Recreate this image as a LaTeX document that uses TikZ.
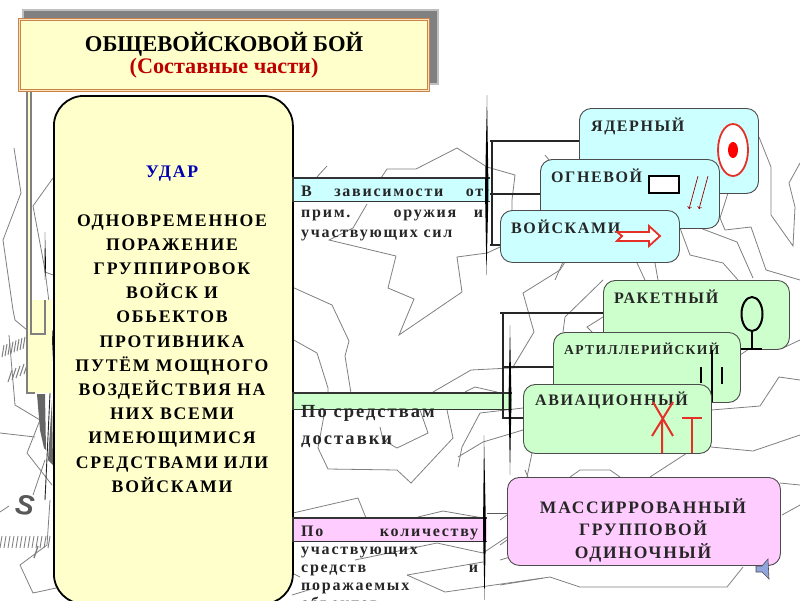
\documentclass[tikz,border=0pt]{standalone}
\usepackage{fontspec}
\setmainfont{Liberation Serif}
\newfontfamily\spacedfont{Liberation Serif}[LetterSpace=11]
\newfontfamily\widefont{Liberation Serif}[LetterSpace=10]
\setsansfont{Liberation Sans}
\definecolor{mapgray}{HTML}{7F7F7F}
\definecolor{framebrown}{HTML}{C8854A}
\definecolor{paleyellow}{HTML}{FFFFCC}
\definecolor{paleblue}{HTML}{CCFFFF}
\definecolor{palegreen}{HTML}{CCFFCC}
\definecolor{palepink}{HTML}{FFCCFF}
\definecolor{iconred}{HTML}{E53027}
\tikzset{
  mapline/.style={mapgray,line width=0.8pt},
  link/.style={black!85,line width=1.1pt},
  bandedge/.style={black!80,line width=1.2pt},
  optionbox/.style={draw=black!70,line width=0.9pt,rounded corners=12pt,anchor=north west,inner sep=0pt},
  bluebox/.style={optionbox,fill=paleblue},
  greenbox/.style={optionbox,fill=palegreen},
  pinkbox/.style={optionbox,fill=palepink},
  boxlabel/.style={anchor=west,inner sep=0pt,text=black!85,font=\widefont\bfseries\fontsize{16}{18}\selectfont},
  bandfill/.style={anchor=north west,inner sep=0pt},
  bandtext/.style={anchor=north west,inner sep=0pt,text=black!85,align=justify,text width=182pt}
}
\begin{document}
\begin{tikzpicture}[x=1pt,y=-1pt]
\useasboundingbox (0,0) rectangle (800,600);
\clip (0,0) rectangle (800,600);

\foreach \pts in {
  {(14,148) (21,193) (3,240) (13,310) (15,320) (27,330)},
  {(53,178) (33,206) (45,270) (50,310) (52,340)},
  {(45,272) (53,275)},
  {(9,335) (15,405) (40,420) (27,453) (52,485)},
  {(0,433) (35,437)},
  {(45,460) (33,495)},
  {(0,512) (9,506)},
  {(50,500) (47,545) (20,565) (33,593) (70,585)},
  {(316,178) (327,166)},
  {(381,178) (387,169) (416,169) (457,148) (487,167) (515,175) (512,200) (512,212)},
  {(367,204) (353,228) (329,240) (396,256) (388,288) (414,299) (399,335) (462,292) (457,257) (487,253) (500,247)},
  {(292,287) (332,305) (349,341) (345,356) (351,393)},
  {(292,339) (317,353) (328,388) (328,393)},
  {(433,392) (471,370) (530,367)},
  {(465,392) (475,387) (497,392)},
  {(513,367) (534,332) (523,293) (560,270) (565,262)},
  {(563,332) (565,317) (603,280)},
  {(603,317) (587,327) (593,333)},
  {(563,262) (555,280)},
  {(637,263) (645,280)},
  {(655,263) (658,280)},
  {(680,228) (690,255) (723,263) (738,280)},
  {(700,228) (737,242) (753,278)},
  {(728,193) (720,218) (725,230) (751,227) (766,270) (800,280)},
  {(759,137) (771,167) (771,215) (793,246) (795,207) (789,183) (800,163)},
  {(545,155) (549,160)},
  {(740,355) (752,347)},
  {(783,348) (800,340)},
  {(711,410) (760,406) (779,377) (800,380)},
  {(711,447) (753,451) (800,435)},
  {(780,483) (800,485)},
  {(782,515) (800,505)},
  {(500,585) (550,577) (580,587) (727,587) (743,567)},
  {(500,520) (507,515)},
  {(500,545) (507,540)},
  {(500,560) (510,557)},
  {(525,470) (528,477)},
  {(570,477) (580,470) (610,470) (620,477)},
  {(650,477) (687,453)},
  {(325,410) (318,448) (328,469) (397,470) (411,483) (453,438) (447,410)},
  {(420,410) (428,433) (397,448) (383,440) (380,427)},
  {(458,467) (462,447) (480,413) (523,408)},
  {(523,430) (483,442) (458,457)},
  {(527,477) (532,453)},
  {(293,513) (358,498) (366,518)},
  {(418,517) (443,511) (483,518)},
  {(355,560) (437,543) (483,553) (507,537)},
  {(407,575) (445,592) (543,578)},
  {(407,575) (483,562)},
  {(292,573) (300,577)},
  {(292,595) (315,588)}}
  \draw[mapline] plot coordinates \pts;

\foreach \x in {0,4,...,48} \draw[mapgray,line width=0.9pt] (\x,548) -- (\x+2,536);
\draw[mapgray,line width=1.4pt] (38,546) -- (34,558);
\foreach \x in {2,5,...,25} \draw[mapgray,line width=1pt] (\x,358-0.4*\x) -- (\x+2,346-0.4*\x);
\foreach \x in {8,12,...,24} \draw[mapgray,line width=1pt] (\x,386-0.5*\x) -- (\x+4,374-0.5*\x);
\node[text=black!65,rotate=-8,font=\sffamily\bfseries\itshape\fontsize{28}{28}\selectfont] (compass) at (25,505) {S};

\fill[black!60] (37,394) -- (45,394) -- (46,450) -- (44,448) -- (40,430) -- cycle;
\fill[black!60] (52,400) -- (53,465) -- (48,460) -- cycle;
\draw[black!85,line width=0.9pt] (53,330) -- (45,500) -- (45,495);
\fill[black] (45,232) -- (46,265) -- (45,280) -- (44.5,265) -- cycle;
\fill[paleyellow] (27,300) rectangle (52,393);
\fill[paleyellow] (27,90) rectangle (32,300);
\draw[black!50,line width=1.1pt] (27,90) -- (27,393) -- (35,393);
\draw[black!50,line width=1.1pt] (31,90) -- (31,334) -- (45,334) -- (45,300);

\fill[black!25] (22,9) rectangle (439,85);
\fill[black!50] (24,11) rectangle (437,83);
\node[draw=framebrown,fill=paleyellow,line width=1.1pt,double=orange!25,double distance=1.5pt,
  minimum width=409pt,minimum height=71pt,inner sep=0pt,align=center,anchor=north west,
  font=\bfseries\fontsize{22.6}{22}\selectfont] (titlebox) at (19,19)
  {ОБЩЕВОЙСКОВОЙ БОЙ\\{\color{red!75!black}\fontsize{22.2}{22}\selectfont(Составные части)}};

\node[draw=black,fill=paleyellow,line width=1.8pt,rounded corners=30pt,anchor=north west,
  minimum width=239pt,minimum height=508pt,inner sep=0pt] (mainbox) at (53,95) {};
\node[anchor=north,inner sep=0pt,align=center,font=\widefont\bfseries\fontsize{17.7}{24.2}\selectfont]
  (maintext) at (172,165.5) {{\color{blue!70!black}УДАР}\\[24.6pt]ОДНОВРЕМЕННОЕ\\ПОРАЖЕНИЕ\\ГРУППИРОВОК\\ВОЙСК И\\ОБЬЕКТОВ\\ПРОТИВНИКА\\ПУТЁМ МОЩНОГО\\ВОЗДЕЙСТВИЯ НА\\НИХ ВСЕМИ\\ИМЕЮЩИМИСЯ\\СРЕДСТВАМИ ИЛИ\\ВОЙСКАМИ};

\node[bandfill,fill=paleblue,minimum width=197pt,minimum height=23pt] (bandone) at (293,178) {};
\node[bandfill,fill=palegreen,minimum width=219pt,minimum height=16pt] (bandtwo) at (293,393) {};
\node[bandfill,fill=palepink,minimum width=194pt,minimum height=23pt] (bandthree) at (293,518) {};
\draw[bandedge] (bandone.south east) -- (bandone.south west) -- (bandone.north west) -- (bandone.north east);
\draw[bandedge] (bandtwo.south east) -- (bandtwo.south west) -- (bandtwo.north west) -- (bandtwo.north east);
\draw[bandedge] (bandthree.south east) -- (bandthree.south west) -- (bandthree.north west) -- (bandthree.north east);

\node[bandtext,font=\spacedfont\bfseries\fontsize{16}{20.5}\selectfont] (textone) at (301,186)
  {В зависимости от\linebreak прим. оружия и\linebreak участвующих сил};
\node[bandtext,text width=170pt,font=\spacedfont\bfseries\fontsize{18.5}{27}\selectfont] (texttwo) at (301,405)
  {По средствам\\доставки};
\node[bandtext,text width=177pt,font=\spacedfont\bfseries\fontsize{16}{18}\selectfont] (textthree) at (301,526)
  {По количеству\linebreak участвующих\\средств и\linebreak поражаемых\\объектов};

\node[bluebox,minimum width=179pt,minimum height=85pt] (yaderny) at (579,108) {};
\node[boxlabel] (yadernylabel) at (591,126) {ЯДЕРНЫЙ};
\draw[iconred,line width=1.8pt,fill=white] (733,150) ellipse (15 and 26);
\fill[red] (733,150) ellipse (5 and 8);
\node[bluebox,minimum width=179pt,minimum height=69pt] (ognevoy) at (540,159) {};
\node[boxlabel] (ognevoylabel) at (551,176) {ОГНЕВОЙ};
\draw[black,line width=1.8pt,fill=white] (649,176) rectangle (679,193);
\draw[->,red!60!black,line width=0.7pt] (698,176) -- (689,209);
\draw[->,red!60!black,line width=0.7pt] (708,176) -- (699,209);
\node[bluebox,minimum width=179pt,minimum height=52pt] (voiskami) at (500,210) {};
\node[boxlabel] (voiskamilabel) at (511,227) {ВОЙСКАМИ};
\draw[iconred,line width=1.8pt,fill=white] (617,232) -- (649,232) -- (649,226) -- (660,236) -- (649,246) -- (649,241) -- (617,241) -- (622,236) -- cycle;

\node[greenbox,minimum width=186pt,minimum height=69pt] (raketny) at (603,280) {};
\node[boxlabel] (raketnylabel) at (614,297) {РАКЕТНЫЙ};
\draw[black,line width=2pt] (752,314) ellipse (10.5 and 17);
\draw[black,line width=2pt] (752,331) -- (752,349) (741,349) -- (762,349);
\node[greenbox,minimum width=187pt,minimum height=70pt] (artil) at (553,332) {};
\node[boxlabel,font=\widefont\bfseries\fontsize{13.6}{16}\selectfont] (artillabel) at (564,349) {АРТИЛЛЕРИЙСКИЙ};
\draw[black,line width=2pt] (701,367) -- (701,383) (712,350) -- (712,402) (722,367) -- (722,384);
\node[greenbox,minimum width=188pt,minimum height=69pt] (avia) at (523,384) {};
\node[boxlabel] (avialabel) at (535,400) {АВИАЦИОННЫЙ};
\draw[iconred,line width=2pt] (653,402) -- (673,436) (673,402) -- (652,436) (662,420) -- (662,453);
\draw[iconred,line width=2pt] (682,418) -- (702,418) (692,418) -- (692,453);
\node[pinkbox,minimum width=273pt,minimum height=88pt] (massbox) at (507,477) {};
\node[inner sep=0pt,align=center,text=black!85,font=\widefont\bfseries\fontsize{17.5}{22.5}\selectfont]
  (masslabel) at (643,530) {МАССИРРОВАННЫЙ\\ГРУППОВОЙ\\ОДИНОЧНЫЙ};

\coordinate (forkone) at (490,141);
\coordinate (forkonelow) at (490,245);
\coordinate (forktwo) at (500,313);
\coordinate (forktwolow) at (503,418);
\draw[link] (forkone) -- (forkone -| yaderny.west);
\draw[link] (forkonelow) -- (forkonelow -| voiskami.west);
\draw[link] (492,141) -- (492,245);
\draw[link] (bandone.east |- ognevoy.west) -- (ognevoy.west);
\draw[link] (forktwo) -- (forktwo -| raketny.west);
\draw[link] (503,313) -- (forktwolow) -- (forktwolow -| avia.west);
\draw[link] (503,367) -- (503,367 -| artil.west);
\draw[black!65,line width=0.9pt] (bandthree.east |- 0,513) -- (massbox.west |- 0,513);

\fill[black] (487,95) -- (488.5,190) -- (486.5,275) -- (485,190) -- cycle;
\fill[black] (510,325) -- (511.5,400) -- (510,475) -- (508.5,400) -- cycle;
\fill[black] (484,435) -- (486,530) -- (484.5,600) -- (483,530) -- cycle;

\draw[black!70,fill=cyan!40!blue!45,line width=0.6pt] (756,566) -- (762,566) -- (768,559) -- (769,579) -- (762,572) -- (756,572) -- cycle;
\end{tikzpicture}
\end{document}
